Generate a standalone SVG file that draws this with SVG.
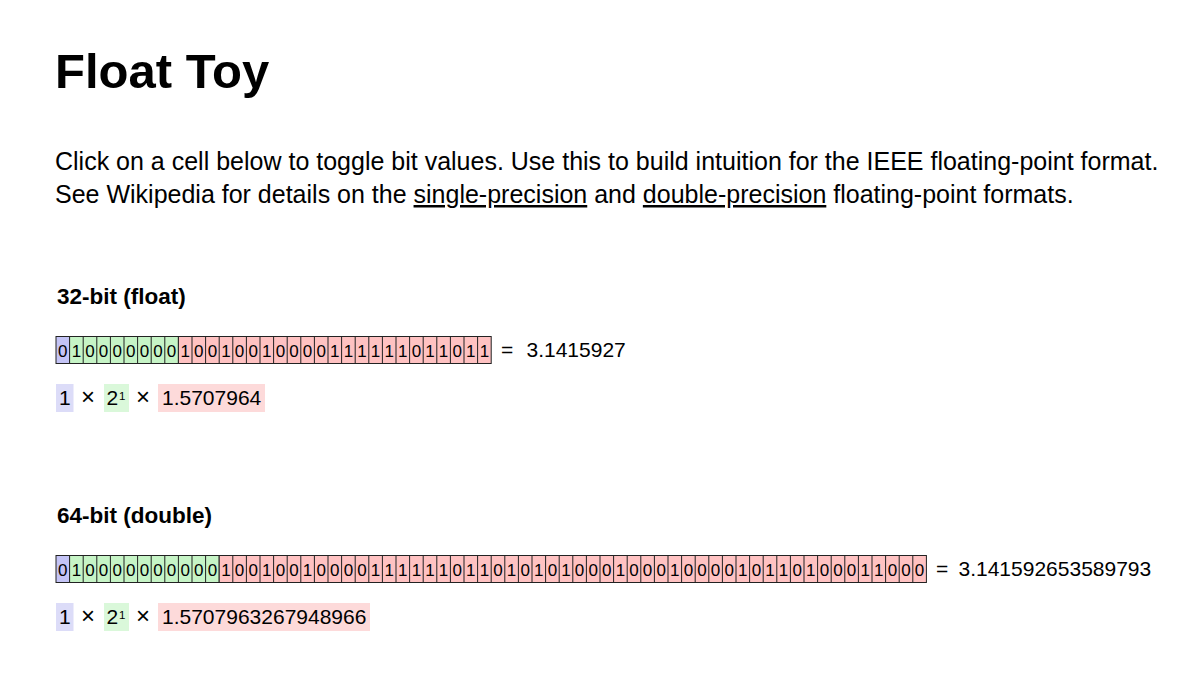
<svg xmlns="http://www.w3.org/2000/svg" width="1200" height="685" viewBox="0 0 1200 685">
<style>
text{font-family:"Liberation Sans",Arial,Helvetica,sans-serif;fill:#000}
.title{font-size:49px;font-weight:bold}
.para{font-size:25px}
.link{text-decoration:underline}
.h{font-size:22.5px;font-weight:bold}
.bit{font-size:17px;text-anchor:middle}
.val{font-size:21px}
.sup{font-size:11.5px}
.op{font-size:24px;text-anchor:middle}
.cs{fill:#c4c4f6;stroke:#222;stroke-width:1}
.ce{fill:#c6f4c6;stroke:#222;stroke-width:1}
.cm{fill:#ffc2c2;stroke:#222;stroke-width:1}
.div{stroke:#222;stroke-width:1;fill:none}
.fs{fill:#dcdcf8}
.fe{fill:#daf8da}
.fm{fill:#fddada}
</style>
<rect width="1200" height="685" fill="#fff"/>
<text class="title" x="55" y="88">Float Toy</text>
<text class="para" x="55" y="170">Click on a cell below to toggle bit values. Use this to build intuition for the IEEE floating-point format.</text>
<text class="para" x="55" y="203">See Wikipedia for details on the <tspan class="link">single-precision</tspan> and <tspan class="link">double-precision</tspan> floating-point formats.</text>

<g id="float32">
<text class="h" x="57" y="304">32-bit (float)</text>
<g id="bits32">
<rect class="cs" x="56" y="336.5" width="13.6" height="27"/>
<rect class="ce" x="69.6" y="336.5" width="108.8" height="27"/>
<rect class="cm" x="178.4" y="336.5" width="312.8" height="27"/>
<path class="div" d="M83.2 336.5v27M96.8 336.5v27M110.4 336.5v27M124 336.5v27M137.6 336.5v27M151.2 336.5v27M164.8 336.5v27M192 336.5v27M205.6 336.5v27M219.2 336.5v27M232.8 336.5v27M246.4 336.5v27M260 336.5v27M273.6 336.5v27M287.2 336.5v27M300.8 336.5v27M314.4 336.5v27M328 336.5v27M341.6 336.5v27M355.2 336.5v27M368.8 336.5v27M382.4 336.5v27M396 336.5v27M409.6 336.5v27M423.2 336.5v27M436.8 336.5v27M450.4 336.5v27M464 336.5v27M477.6 336.5v27"/>
<text class="bit" y="356.5" x="62.8 76.4 90 103.6 117.2 130.8 144.4 158 171.6 185.2 198.8 212.4 226 239.6 253.2 266.8 280.4 294 307.6 321.2 334.8 348.4 362 375.6 389.2 402.8 416.4 430 443.6 457.2 470.8 484.4">01000000010010010000111111011011</text>
</g>
<text class="val" x="501" y="357">=</text>
<text class="val" x="526.5" y="357">3.1415927</text>
<g id="formula32">
<rect class="fs" x="56" y="384" width="17.5" height="28"/>
<text class="val" x="59" y="405">1</text>
<text class="op" x="88" y="405">×</text>
<rect class="fe" x="104" y="384" width="25" height="28"/>
<text class="val" x="106.5" y="405">2</text>
<text class="sup" x="119" y="400">1</text>
<text class="op" x="143" y="405">×</text>
<rect class="fm" x="158" y="384" width="107" height="28"/>
<text class="val" x="162" y="405">1.5707964</text>
</g>
</g>

<g id="float64">
<text class="h" x="57" y="523">64-bit (double)</text>
<g id="bits64">
<rect class="cs" x="56" y="555.5" width="13.6" height="27"/>
<rect class="ce" x="69.6" y="555.5" width="149.6" height="27"/>
<rect class="cm" x="219.2" y="555.5" width="707.2" height="27"/>
<path class="div" d="M83.2 555.5v27M96.8 555.5v27M110.4 555.5v27M124 555.5v27M137.6 555.5v27M151.2 555.5v27M164.8 555.5v27M178.4 555.5v27M192 555.5v27M205.6 555.5v27M232.8 555.5v27M246.4 555.5v27M260 555.5v27M273.6 555.5v27M287.2 555.5v27M300.8 555.5v27M314.4 555.5v27M328 555.5v27M341.6 555.5v27M355.2 555.5v27M368.8 555.5v27M382.4 555.5v27M396 555.5v27M409.6 555.5v27M423.2 555.5v27M436.8 555.5v27M450.4 555.5v27M464 555.5v27M477.6 555.5v27M491.2 555.5v27M504.8 555.5v27M518.4 555.5v27M532 555.5v27M545.6 555.5v27M559.2 555.5v27M572.8 555.5v27M586.4 555.5v27M600 555.5v27M613.6 555.5v27M627.2 555.5v27M640.8 555.5v27M654.4 555.5v27M668 555.5v27M681.6 555.5v27M695.2 555.5v27M708.8 555.5v27M722.4 555.5v27M736 555.5v27M749.6 555.5v27M763.2 555.5v27M776.8 555.5v27M790.4 555.5v27M804 555.5v27M817.6 555.5v27M831.2 555.5v27M844.8 555.5v27M858.4 555.5v27M872 555.5v27M885.6 555.5v27M899.2 555.5v27M912.8 555.5v27"/>
<text class="bit" y="575.5" x="62.8 76.4 90 103.6 117.2 130.8 144.4 158 171.6 185.2 198.8 212.4 226 239.6 253.2 266.8 280.4 294 307.6 321.2 334.8 348.4 362 375.6 389.2 402.8 416.4 430 443.6 457.2 470.8 484.4 498 511.6 525.2 538.8 552.4 566 579.6 593.2 606.8 620.4 634 647.6 661.2 674.8 688.4 702 715.6 729.2 742.8 756.4 770 783.6 797.2 810.8 824.4 838 851.6 865.2 878.8 892.4 906 919.6">0100000000001001001000011111101101010100010001000010110100011000</text>
</g>
<text class="val" x="936" y="576">=</text>
<text class="val" x="958.5" y="576">3.141592653589793</text>
<g id="formula64">
<rect class="fs" x="56" y="603" width="17.5" height="28"/>
<text class="val" x="59" y="624">1</text>
<text class="op" x="88" y="624">×</text>
<rect class="fe" x="104" y="603" width="25" height="28"/>
<text class="val" x="106.5" y="624">2</text>
<text class="sup" x="119" y="619">1</text>
<text class="op" x="143" y="624">×</text>
<rect class="fm" x="158" y="603" width="212" height="28"/>
<text class="val" x="162" y="624">1.5707963267948966</text>
</g>
</g>
</svg>
